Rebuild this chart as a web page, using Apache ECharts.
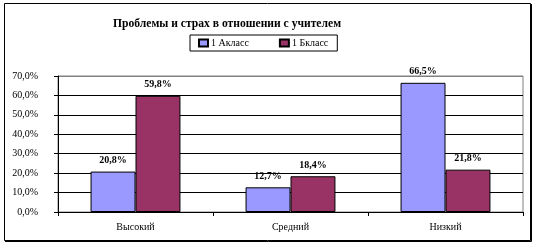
<!DOCTYPE html>
<html><head><meta charset="utf-8">
<script src="https://cdn.jsdelivr.net/npm/echarts@6/dist/echarts.min.js"></script>
<style>html,body{margin:0;padding:0;background:#fff}#c{width:536px;height:245px}</style>
</head><body><div id="c"></div>
<script>
const categories = ['Высокий', 'Средний', 'Низкий'];
const seriesNames = ['1 Акласс', '1 Бкласс'];
const seriesA = [20.8, 12.7, 66.5];
const seriesB = [59.8, 18.4, 21.8];
const titleText = 'Проблемы и страх в отношении с учителем';
const yMax = 70, yStep = 10;

const fmt = v => v.toFixed(1).replace('.', ',') + '%';
const font = '"Liberation Serif", "Times New Roman", serif';
const chart = echarts.init(document.getElementById('c'), null, {renderer: 'canvas'});
const labelCfg = {show: true, position: 'top', distance: 6, color: '#000', fontFamily: font, fontSize: 10, fontWeight: 'bold', formatter: p => fmt(p.value)};
chart.setOption({
  animation: false,
  textStyle: {fontFamily: font},
  graphic: [{type: 'rect', shape: {x: 4.5, y: 3.5, width: 526, height: 237}, style: {fill: 'none', stroke: '#000', lineWidth: 1}},
            {type: 'polyline', shape: {points: [[531.5, 4], [531.5, 241.5], [5, 241.5]]}, style: {fill: 'none', stroke: '#000', lineWidth: 1}}],
  title: {text: titleText, left: 222, top: 13, textAlign: 'center', textStyle: {fontFamily: font, fontSize: 11.6, fontWeight: 'bold', color: '#000'}},
  legend: {data: seriesNames, left: 190, top: 35, padding: [3, 9, 3, 8], itemGap: 30, itemWidth: 9, itemHeight: 7,
           borderColor: '#000', borderWidth: 1, icon: 'rect',
           textStyle: {fontFamily: font, fontSize: 10, color: '#000', padding: [0, 0, 0, -2]}},
  grid: {left: 58, top: 76, right: 13, bottom: 33, show: true, borderColor: '#808080', borderWidth: 1},
  xAxis: {type: 'category', data: categories,
          axisLine: {lineStyle: {color: '#000'}}, axisTick: {show: true, length: 4, lineStyle: {color: '#000'}},
          axisLabel: {color: '#000', fontFamily: font, fontSize: 10, margin: 10}},
  yAxis: {type: 'value', min: 0, max: yMax, interval: yStep,
          axisLine: {show: true, lineStyle: {color: '#000'}}, axisTick: {show: true, length: 4, lineStyle: {color: '#000'}},
          splitLine: {lineStyle: {color: ['#000','#000','#000','#000','#000','#000','#000','#808080']}},
          axisLabel: {color: '#000', fontFamily: font, fontSize: 10, margin: 20, formatter: v => fmt(v)}},
  series: [
    {name: seriesNames[0], type: 'bar', data: seriesA, barGap: '0%', barCategoryGap: '42%',
     itemStyle: {color: '#9999FF', borderColor: '#000', borderWidth: 1}, label: labelCfg},
    {name: seriesNames[1], type: 'bar', data: seriesB, barGap: '0%', barCategoryGap: '42%',
     itemStyle: {color: '#993366', borderColor: '#000', borderWidth: 1}, label: labelCfg}
  ]
});
</script></body></html>
